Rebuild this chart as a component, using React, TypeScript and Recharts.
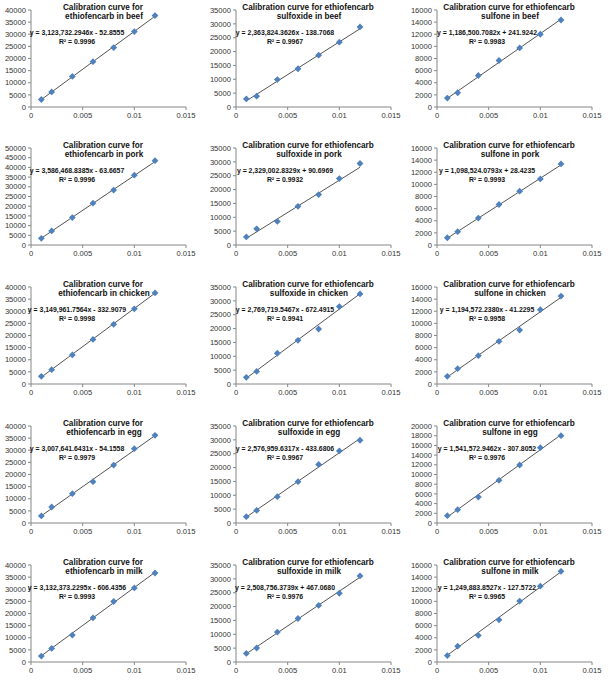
import React from 'react';
import { ScatterChart, Scatter, XAxis, YAxis, ReferenceLine } from 'recharts';

// concentrations (mg/kg) shared by every panel
const conc = [0.001, 0.002, 0.004, 0.006, 0.008, 0.01, 0.012];
const xTicks = [0, 0.005, 0.01, 0.015];

const ticks50k = [0, 5000, 10000, 15000, 20000, 25000, 30000, 35000, 40000, 45000, 50000];
const ticks40k = [0, 5000, 10000, 15000, 20000, 25000, 30000, 35000, 40000];
const ticks35k = [0, 5000, 10000, 15000, 20000, 25000, 30000, 35000];
const ticks20k = [0, 2000, 4000, 6000, 8000, 10000, 12000, 14000, 16000, 18000, 20000];
const ticks16k = [0, 2000, 4000, 6000, 8000, 10000, 12000, 14000, 16000];

// peak areas
const beefEth = [3100, 6200, 12600, 18700, 24500, 31100, 37700];
const beefSulfoxide = [2900, 3900, 9900, 13800, 18700, 23400, 28900];
const beefSulfone = [1480, 2350, 5200, 7670, 9750, 12000, 14350];
const porkEth = [3450, 7250, 14150, 21550, 28300, 36000, 43450];
const porkSulfoxide = [2900, 5850, 8500, 13950, 18200, 23950, 29400];
const porkSulfone = [1200, 2200, 4440, 6680, 8880, 10900, 13370];
const chickenEth = [3150, 5900, 12000, 18400, 24600, 31000, 37550];
const chickenSulfoxide = [2400, 4550, 11100, 15750, 19850, 27950, 32500];
const chickenSulfone = [1270, 2530, 4670, 7040, 8900, 12260, 14500];
const eggEth = [2900, 6600, 12100, 17050, 23900, 30650, 36150];
const eggSulfoxide = [2300, 4550, 9500, 14900, 21150, 26000, 29850];
const eggSulfone = [1510, 2750, 5360, 8800, 11960, 15530, 18000];
const milkEth = [2450, 5600, 11100, 18200, 24950, 30550, 36700];
const milkSulfoxide = [3100, 5050, 10800, 15700, 20400, 24800, 31050];
const milkSulfone = [1060, 2610, 4390, 6950, 10050, 12500, 14950];

const titles = [
  ['Calibration curve for', 'ethiofencarb in beef'],
  ['Calibration curve for ethiofencarb', 'sulfoxide in beef'],
  ['Calibration curve for ethiofencarb', 'sulfone in beef'],
  ['Calibration curve for', 'ethiofencarb in pork'],
  ['Calibration curve for ethiofencarb', 'sulfoxide in pork'],
  ['Calibration curve for ethiofencarb', 'sulfone in pork'],
  ['Calibration curve for', 'ethiofencarb in chicken'],
  ['Calibration curve for ethiofencarb', 'sulfoxide in chicken'],
  ['Calibration curve for ethiofencarb', 'sulfone in chicken'],
  ['Calibration curve for', 'ethiofencarb in egg'],
  ['Calibration curve for ethiofencarb', 'sulfoxide in egg'],
  ['Calibration curve for ethiofencarb', 'sulfone in egg'],
  ['Calibration curve for', 'ethiofencarb in milk'],
  ['Calibration curve for ethiofencarb', 'sulfoxide in milk'],
  ['Calibration curve for ethiofencarb', 'sulfone in milk'],
];

const equations = [
  'y = 3,123,732.2946x - 52.8555',
  'y = 2,363,824.3626x - 138.7068',
  'y = 1,186,500.7082x + 241.9242',
  'y = 3,586,468.8385x - 63.6657',
  'y = 2,329,002.8329x + 90.6969',
  'y = 1,098,524.0793x + 28.4235',
  'y = 3,149,961.7564x - 332.9079',
  'y = 2,769,719.5467x - 672.4915',
  'y = 1,194,572.2380x - 41.2295',
  'y = 3,007,641.6431x - 54.1558',
  'y = 2,576,959.6317x - 433.6806',
  'y = 1,541,572.9462x - 307.8052',
  'y = 3,132,373.2295x - 606.4356',
  'y = 2,508,756.3739x + 467.0680',
  'y = 1,249,883.8527x - 127.5722',
];
const slopes = [
  3123732.2946, 2363824.3626, 1186500.7082,
  3586468.8385, 2329002.8329, 1098524.0793,
  3149961.7564, 2769719.5467, 1194572.238,
  3007641.6431, 2576959.6317, 1541572.9462,
  3132373.2295, 2508756.3739, 1249883.8527,
];
const intercepts = [
  -52.8555, -138.7068, 241.9242,
  -63.6657, 90.6969, 28.4235,
  -332.9079, -672.4915, -41.2295,
  -54.1558, -433.6806, -307.8052,
  -606.4356, 467.068, -127.5722,
];
const rSquared = [
  '0.9996', '0.9967', '0.9983',
  '0.9996', '0.9932', '0.9993',
  '0.9998', '0.9941', '0.9958',
  '0.9979', '0.9967', '0.9976',
  '0.9993', '0.9976', '0.9965',
];

const series = [
  beefEth, beefSulfoxide, beefSulfone,
  porkEth, porkSulfoxide, porkSulfone,
  chickenEth, chickenSulfoxide, chickenSulfone,
  eggEth, eggSulfoxide, eggSulfone,
  milkEth, milkSulfoxide, milkSulfone,
];
const yTicks = [
  ticks40k, ticks35k, ticks16k,
  ticks50k, ticks35k, ticks16k,
  ticks40k, ticks35k, ticks16k,
  ticks40k, ticks35k, ticks20k,
  ticks40k, ticks35k, ticks16k,
];

const FONT = "'Liberation Sans Narrow', 'Liberation Sans', Arial, sans-serif";
const AXIS = '#868686';
const MARKER = '#4F81BD';

const colLeft = [0, 205, 406];
const rowTop = [0, 138, 277, 416, 555];
const eqCenter = [77, 80, 81];

const Diamond = (props: any) => {
  const { cx, cy } = props;
  if (cx == null || cy == null) return null;
  const r = 3.4;
  return (
    <polygon
      points={`${cx},${cy - r} ${cx + r},${cy} ${cx},${cy + r} ${cx - r},${cy}`}
      fill={MARKER}
    />
  );
};

function Panel({ idx }: { idx: number }) {
  const col = idx % 3;
  const row = Math.floor(idx / 3);
  const ys = series[idx];
  const data = conc.map((x, i) => ({ x, y: ys[i] }));
  const ticks = yTicks[idx];
  const m = slopes[idx];
  const b = intercepts[idx];
  const x0 = conc[0];
  const x1 = conc[conc.length - 1];

  const textBase: React.CSSProperties = {
    position: 'absolute',
    transform: 'translate(-50%, -50%)',
    whiteSpace: 'nowrap',
    fontFamily: FONT,
    fontWeight: 'bold',
    color: '#111',
    lineHeight: 1,
  };

  return (
    <div style={{ position: 'absolute', left: colLeft[col], top: rowTop[row], width: 200, height: 137 }}>
      <ScatterChart width={200} height={137} margin={{ top: 10, right: 14, left: 0, bottom: 0 }}>
        <XAxis
          type="number"
          dataKey="x"
          domain={[0, 0.015]}
          ticks={xTicks}
          interval={0}
          height={30}
          tickSize={3}
          tickMargin={3}
          stroke={AXIS}
          tick={{ fontSize: 7.6, fill: '#333', fontFamily: FONT }}
        />
        <YAxis
          type="number"
          dataKey="y"
          domain={[0, ticks[ticks.length - 1]]}
          ticks={ticks}
          interval={0}
          width={31}
          tickSize={3}
          tickMargin={2}
          stroke={AXIS}
          tick={{ fontSize: 7.6, fill: '#333', fontFamily: FONT }}
        />
        <ReferenceLine
          segment={[{ x: x0, y: m * x0 + b }, { x: x1, y: m * x1 + b }]}
          stroke="#404040"
          strokeWidth={0.9}
        />
        <Scatter data={data} shape={<Diamond />} isAnimationActive={false} />
      </ScatterChart>
      <div style={{ ...textBase, left: 103, top: 8, fontSize: 8.2 }}>{titles[idx][0]}</div>
      <div style={{ ...textBase, left: 104, top: 16.5, fontSize: 8.2 }}>{titles[idx][1]}</div>
      <div style={{ ...textBase, left: eqCenter[col], top: 33, fontSize: 6.9 }}>{equations[idx]}</div>
      <div style={{ ...textBase, left: eqCenter[col], top: 42, fontSize: 6.9 }}>R² = {rSquared[idx]}</div>
    </div>
  );
}

export default function App() {
  return (
    <div style={{ position: 'absolute', left: 0, top: 0, width: 610, height: 681, background: '#fff' }}>
      {series.map((_, i) => (
        <Panel key={i} idx={i} />
      ))}
    </div>
  );
}
